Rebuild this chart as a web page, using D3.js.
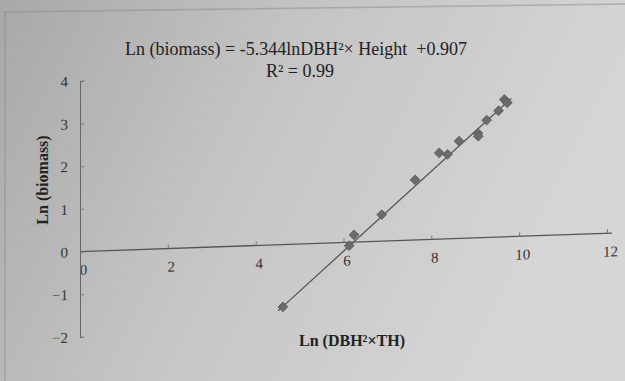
<!DOCTYPE html>
<html>
<head>
<meta charset="utf-8">
<script src="https://cdn.jsdelivr.net/npm/d3@7"></script>
<style>
  body { margin: 0; }
  svg { display: block; }
</style>
</head>
<body>
<div id="chart"></div>
<script>
// values
var lnDbhTh = [4.62, 6.13, 6.24, 6.87, 7.63, 8.18, 8.37, 8.63, 9.06, 9.07, 9.26, 9.53, 9.66, 9.73];
var lnBiomass = [-1.46, -0.08, 0.17, 0.62, 1.41, 2.02, 1.98, 2.28, 2.45, 2.38, 2.75, 2.96, 3.22, 3.14];
var xTicks = [0, 2, 4, 6, 8, 10, 12];
var yTicks = [-2, -1, 0, 1, 2, 3, 4];
var trendRange = [4.51, 9.82];
var trendSlope = 0.902,
    trendIntercept = -5.618;

var width = 625,
    height = 381;

var svg = d3.select('#chart').append('svg')
  .attr('width', width)
  .attr('height', height);

// greyish photo background, darker on the left
var grad = svg.append('defs').append('linearGradient')
  .attr('id', 'bg')
  .attr('x1', 0).attr('y1', 0).attr('x2', 1).attr('y2', 0.3);
grad.append('stop').attr('offset', '0%').attr('stop-color', '#a8a8a8');
grad.append('stop').attr('offset', '45%').attr('stop-color', '#c4c4c4');
grad.append('stop').attr('offset', '100%').attr('stop-color', '#d6d6d6');

svg.append('rect')
  .attr('width', width)
  .attr('height', height)
  .attr('fill', 'url(#bg)');

// faint chart area border
svg.append('path')
  .attr('d', 'M5,381 L5,12 L625,4')
  .attr('fill', 'none')
  .attr('stroke', '#8a8a8a')
  .attr('stroke-opacity', 0.5)
  .attr('stroke-width', 1.5);

var x = d3.scaleLinear().domain([0, 12]).range([0, 527]);
var y = d3.scaleLinear().domain([-2, 4]).range([256, 0]);

// the photo is a little tilted, horizontals slope up to the right
var plot = svg.append('g')
  .attr('transform', 'translate(80,81) skewY(-2)');

var serif = '"Liberation Serif", "Times New Roman", serif';

// x axis sits at y = 0
var xAxis = d3.axisBottom(x)
  .tickValues(xTicks)
  .tickSize(-4)
  .tickFormat(d3.format('d'));

var gx = plot.append('g')
  .attr('transform', 'translate(0,' + y(0) + ')')
  .call(xAxis);
gx.select('.domain').attr('stroke', '#555').attr('stroke-width', 1.3).attr('d', 'M0,0H532');
gx.selectAll('.tick line').attr('stroke', '#777');
gx.selectAll('.tick text')
  .attr('y', 18)
  .attr('dy', '0.35em')
  .attr('dx', 3)
  .attr('fill', '#333')
  .style('font-family', serif)
  .style('font-size', '15px');

var yAxis = d3.axisLeft(y)
  .tickValues(yTicks)
  .tickSize(-4)
  .tickFormat(d3.format('d'));

var gy = plot.append('g').call(yAxis);
gy.select('.domain').attr('stroke', '#666').attr('stroke-width', 1);
gy.selectAll('.tick line').attr('stroke', '#777');
gy.selectAll('.tick text')
  .attr('x', -12)
  .attr('fill', '#333')
  .style('font-family', serif)
  .style('font-size', '15px');

// trend line
var line = d3.line()
  .x(function(d) { return x(d); })
  .y(function(d) { return y(trendSlope * d + trendIntercept); });

plot.append('path')
  .datum(trendRange)
  .attr('d', line)
  .attr('fill', 'none')
  .attr('stroke', '#555')
  .attr('stroke-width', 1.3);

// diamond markers
var diamond = d3.symbol().type(d3.symbolSquare).size(48);

plot.selectAll('.pt')
  .data(lnDbhTh)
  .enter().append('path')
  .attr('class', 'pt')
  .attr('d', diamond)
  .attr('transform', function(d, i) {
    return 'translate(' + x(d) + ',' + y(lnBiomass[i]) + ') rotate(45)';
  })
  .attr('fill', '#6b6b6b')
  .attr('stroke', '#5a5a5a')
  .attr('stroke-width', 0.8);

// equation text
svg.append('text')
  .attr('x', 296)
  .attr('y', 55)
  .attr('text-anchor', 'middle')
  .attr('fill', '#222')
  .attr('xml:space', 'preserve')
  .style('white-space', 'pre')
  .style('font-family', serif)
  .style('font-size', '18px')
  .text('Ln (biomass) = -5.344lnDBH²× Height  +0.907');

svg.append('text')
  .attr('x', 300)
  .attr('y', 77)
  .attr('text-anchor', 'middle')
  .attr('fill', '#222')
  .style('font-family', serif)
  .style('font-size', '18px')
  .text('R² = 0.99');

// axis titles
svg.append('text')
  .attr('x', 352)
  .attr('y', 346)
  .attr('text-anchor', 'middle')
  .attr('fill', '#222')
  .style('font-family', serif)
  .style('font-size', '16px')
  .style('font-weight', 'bold')
  .text('Ln (DBH²×TH)');

svg.append('text')
  .attr('transform', 'translate(48,180) rotate(-90)')
  .attr('text-anchor', 'middle')
  .attr('fill', '#222')
  .style('font-family', serif)
  .style('font-size', '16px')
  .style('font-weight', 'bold')
  .text('Ln (biomass)');
</script>
</body>
</html>
